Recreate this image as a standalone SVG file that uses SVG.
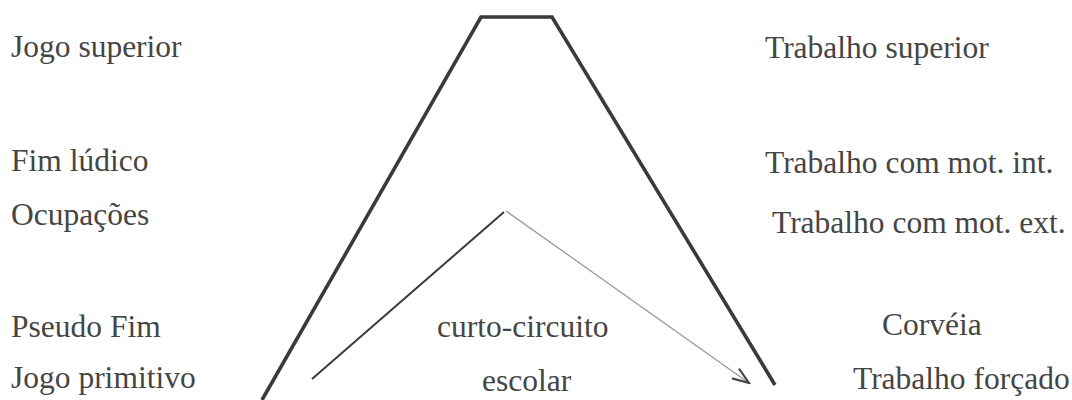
<svg xmlns="http://www.w3.org/2000/svg" width="1072" height="400" viewBox="0 0 1072 400">
<style>
text{font-family:"Liberation Serif","Times New Roman",serif;font-size:31.5px;fill:#454545}
.thick{fill:none;stroke:#3a3a3a;stroke-width:3.6;stroke-linejoin:miter}
.inner{fill:none;stroke:#3a3a3a;stroke-width:2}
.gray{fill:none;stroke:#9a9a9a;stroke-width:1.3}
</style>
<defs>
<marker id="arr" viewBox="0 0 12 10" refX="11" refY="5" markerWidth="19" markerHeight="15" markerUnits="userSpaceOnUse" orient="auto">
<path d="M0,1 L11,5 L0,9" fill="none" stroke="#444" stroke-width="1.4"/>
</marker>
</defs>
<g id="connectors">
<polyline class="thick" points="262,400 481,17 552,17 775,385"/>
<polyline class="inner" points="312,379 504,212"/>
<line class="gray" x1="506" y1="211" x2="749" y2="383" marker-end="url(#arr)"/>
</g>
<g id="left-labels">
<g id="jogo-superior"><text x="11" y="57">Jogo superior</text></g>
<g id="fim-ludico"><text x="11" y="171">Fim lúdico</text></g>
<g id="ocupacoes"><text x="11" y="225">Ocupações</text></g>
<g id="pseudo-fim"><text x="11" y="337">Pseudo Fim</text></g>
<g id="jogo-primitivo"><text x="11" y="388">Jogo primitivo</text></g>
</g>
<g id="right-labels">
<g id="trabalho-superior"><text x="765" y="58">Trabalho superior</text></g>
<g id="trabalho-int"><text x="765" y="173">Trabalho com mot. int.</text></g>
<g id="trabalho-ext"><text x="772" y="233">Trabalho com mot. ext.</text></g>
<g id="corveia"><text x="882" y="335">Corvéia</text></g>
<g id="trabalho-forcado"><text x="853" y="389">Trabalho forçado</text></g>
</g>
<g id="center-labels">
<g id="curto-circuito"><text x="437" y="337">curto-circuito</text></g>
<g id="escolar"><text x="482" y="391">escolar</text></g>
</g>
</svg>
